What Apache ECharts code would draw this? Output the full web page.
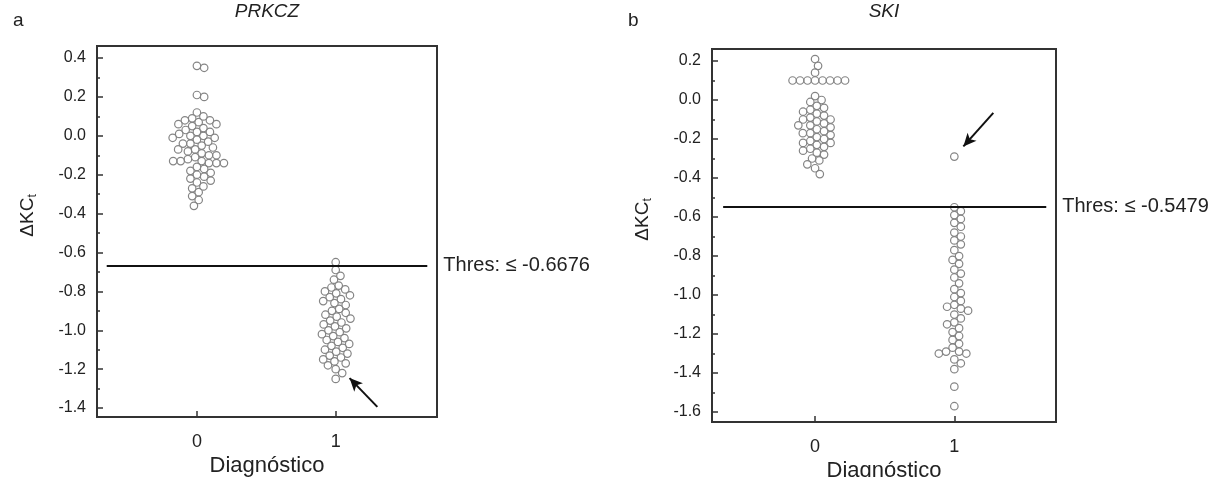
<!DOCTYPE html>
<html><head><meta charset="utf-8">
<script src="https://cdn.jsdelivr.net/npm/echarts@6/dist/echarts.min.js"></script>
<style>html,body{margin:0;padding:0;background:#fff}#c{width:1220px;height:477px}</style>
</head><body><div id="c"></div>
<script>
// ---------- data ----------
const categories = [0, 1];
const xTickLabels = ['0', '1'];
const xAxisTitle = 'Diagnóstico';
const panelTitles = ['PRKCZ', 'SKI'];
const panelLetters = ['a', 'b'];

const prkczGroup0 = [0.36, 0.35, 0.21, 0.20, 0.12, 0.10, 0.09, 0.08, 0.08, 0.07, 0.06, 0.06, 0.05, 0.04, 0.03,
  0.02, 0.02, 0.01, 0.00, 0.00, -0.01, -0.01, -0.02, -0.03, -0.04, -0.04, -0.05, -0.06, -0.07, -0.07,
  -0.08, -0.09, -0.10, -0.10, -0.11, -0.12, -0.13, -0.13, -0.13, -0.14, -0.14, -0.14,
  -0.16, -0.17, -0.18, -0.19, -0.20, -0.21, -0.22, -0.23, -0.24, -0.26, -0.27, -0.29, -0.31, -0.33, -0.36];
const prkczGroup1 = [-0.65, -0.69, -0.72, -0.74, -0.77, -0.78, -0.79, -0.80, -0.81, -0.82, -0.83, -0.84, -0.85,
  -0.86, -0.87, -0.89, -0.90, -0.91, -0.92, -0.93, -0.94, -0.95, -0.96, -0.97, -0.98, -0.99, -1.00, -1.01,
  -1.02, -1.03, -1.04, -1.05, -1.06, -1.07, -1.08, -1.09, -1.10, -1.11, -1.12, -1.13, -1.14, -1.15, -1.16,
  -1.17, -1.18, -1.20, -1.22, -1.25];
const skiGroup0 = [0.21, 0.175, 0.14, 0.10, 0.10, 0.10, 0.10, 0.10, 0.10, 0.10, 0.10, 0.02, 0.00, -0.01, -0.03,
  -0.04, -0.05, -0.06, -0.07, -0.08, -0.09, -0.10, -0.10, -0.11, -0.12, -0.13, -0.13, -0.14, -0.15, -0.16,
  -0.17, -0.17, -0.18, -0.19, -0.20, -0.21, -0.22, -0.22, -0.23, -0.24, -0.25, -0.26, -0.27, -0.28, -0.30,
  -0.31, -0.33, -0.35, -0.38];
const skiGroup1 = [-0.29, -0.55, -0.57, -0.59, -0.61, -0.63, -0.65, -0.68, -0.70, -0.72, -0.74, -0.77, -0.80,
  -0.82, -0.84, -0.87, -0.89, -0.91, -0.94, -0.97, -0.99, -1.01, -1.03, -1.05, -1.06, -1.07, -1.08, -1.10,
  -1.12, -1.14, -1.15, -1.17, -1.19, -1.21, -1.23, -1.25, -1.27, -1.29, -1.29, -1.30, -1.30, -1.33, -1.35,
  -1.38, -1.47, -1.57];
const prkczThreshold = -0.6676;
const skiThreshold = -0.5479;
const prkczYTicks = [-1.4, -1.2, -1.0, -0.8, -0.6, -0.4, -0.2, 0.0, 0.2, 0.4];
const skiYTicks = [-1.6, -1.4, -1.2, -1.0, -0.8, -0.6, -0.4, -0.2, 0.0, 0.2];

// ---------- layout ----------
const FONT = '"Liberation Sans", Arial, sans-serif';
const TXT = '#222';
const panels = [
  { grid: { left: 97, top: 46, width: 340, height: 371 }, xMin: -0.72, xMax: 1.73, yMin: -1.446, yMax: 0.462,
    groups: [prkczGroup0, prkczGroup1], thr: prkczThreshold, yTicks: prkczYTicks,
    arrow: [[1.30, -1.394], [1.10, -1.246]], lineX: [-0.65, 1.66], letterX: 13 },
  { grid: { left: 712, top: 49, width: 344, height: 373 }, xMin: -0.74, xMax: 1.73, yMin: -1.651, yMax: 0.2615,
    groups: [skiGroup0, skiGroup1], thr: skiThreshold, yTicks: skiYTicks,
    arrow: [[1.28, -0.066], [1.065, -0.238]], lineX: [-0.66, 1.66], letterX: 628 }
];
const MARK = 7.5, D = 7.4;

function swarm(values, group, p) {
  const kx = p.grid.width / (p.xMax - p.xMin), ky = p.grid.height / (p.yMax - p.yMin);
  const sorted = values.slice().sort((a, b) => b - a);
  const placed = [], out = [];
  for (const v of sorted) {
    const py = v * ky;
    let dx = 0;
    for (let s = 0; s < 400; s++) {
      const cands = s === 0 ? [0] : [s * 0.25, -s * 0.25];
      let ok = null;
      for (const c of cands) {
        if (placed.every(q => (q[0] - c) ** 2 + (q[1] - py) ** 2 >= D * D)) { ok = c; break; }
      }
      if (ok !== null) { dx = ok; break; }
    }
    placed.push([dx, py]);
    out.push([group + dx / kx, v]);
  }
  return out;
}

function minorOf(ticks, lo, hi) {
  const m = [];
  const step = ticks[1] - ticks[0];
  for (let v = ticks[0] - step / 2; v <= hi + 1e-9; v += step) if (v >= lo) m.push(+v.toFixed(3));
  return m;
}

const grids = [], xAxes = [], yAxes = [], series = [], graphics = [];
panels.forEach((p, i) => {
  grids.push(Object.assign({ show: true, borderColor: '#333', borderWidth: 2, backgroundColor: 'transparent',
    containLabel: false, outerBoundsMode: 'none' }, p.grid));
  xAxes.push({
    type: 'value', gridIndex: i, min: p.xMin, max: p.xMax, position: 'bottom',
    name: xAxisTitle, nameLocation: 'middle', nameGap: 38, nameMoveOverlap: false,
    nameTextStyle: { fontFamily: FONT, fontSize: 22, color: TXT },
    axisLine: { show: true, onZero: false, lineStyle: { color: '#333', width: 2 } },
    axisTick: { show: true, inside: true, length: 6, customValues: categories, lineStyle: { color: '#333', width: 1.5 } },
    axisLabel: { show: true, customValues: categories, formatter: v => xTickLabels[categories.indexOf(Math.round(v))] || '',
      fontFamily: FONT, fontSize: 18, color: TXT, margin: 16 },
    splitLine: { show: false }
  });
  yAxes.push({
    type: 'value', gridIndex: i, min: p.yMin, max: p.yMax, position: 'left',
    name: '{d|ΔKC}{s|t}', nameLocation: 'middle', nameGap: 58, nameRotate: 90, nameMoveOverlap: false,
    nameTextStyle: { fontFamily: FONT, color: TXT, padding: [0, 0, 0, 32],
      rich: { d: { fontFamily: FONT, fontSize: 19, color: TXT, lineHeight: 22 },
              s: { fontFamily: FONT, fontSize: 12, color: TXT, lineHeight: 12, verticalAlign: 'bottom' } } },
    axisLine: { show: true, onZero: false, lineStyle: { color: '#333', width: 2 } },
    axisTick: { show: true, inside: true, length: 6, customValues: p.yTicks, lineStyle: { color: '#333', width: 1.5 } },
    axisLabel: { show: true, customValues: p.yTicks, formatter: v => (+v).toFixed(1),
      fontFamily: FONT, fontSize: 16, color: TXT, margin: 11 },
    splitLine: { show: false }
  });
  yAxes.push({
    type: 'value', gridIndex: i, min: p.yMin, max: p.yMax, position: 'left', offset: 0,
    axisLine: { show: false, onZero: false },
    axisTick: { show: true, inside: true, length: 3, customValues: minorOf(p.yTicks, p.yMin, p.yMax), lineStyle: { color: '#333', width: 1.5 } },
    axisLabel: { show: false }, splitLine: { show: false }
  });
  const data = [];
  p.groups.forEach((vals, g) => swarm(vals, categories[g], p).forEach(d => data.push(d)));
  series.push({
    type: 'scatter', xAxisIndex: i, yAxisIndex: i * 2, data, symbol: 'circle', symbolSize: MARK,
    itemStyle: { color: 'rgba(255,255,255,0)', borderColor: '#858585', borderWidth: 1.2, opacity: 1 },
    silent: true, animation: false, z: 3,
    markLine: {
      silent: true, animation: false, symbol: ['none', 'none'], precision: 4,
      data: [
        [{ coord: [p.lineX[0], p.thr], lineStyle: { color: '#111', width: 2, type: 'solid' },
           label: { show: true, position: 'end', distance: 16, formatter: 'Thres: ≤ ' + p.thr.toFixed(4),
                    fontFamily: FONT, fontSize: 20, color: TXT } },
         { coord: [p.lineX[1], p.thr] }],
        [{ coord: p.arrow[0], symbol: 'none', lineStyle: { color: '#111', width: 2, type: 'solid' }, label: { show: false } },
         { coord: p.arrow[1], symbol: 'arrow', symbolSize: [9, 13] }]
      ]
    }
  });
  const cx = p.grid.left + p.grid.width / 2;
  graphics.push({ type: 'text', x: cx, y: 2, style: { text: panelTitles[i], font: 'italic 19px ' + FONT, fill: TXT, align: 'center', verticalAlign: 'top' } });
  graphics.push({ type: 'text', x: p.letterX, y: 11, style: { text: panelLetters[i], font: '19px ' + FONT, fill: TXT, align: 'left', verticalAlign: 'top' } });
});

const chart = echarts.init(document.getElementById('c'), null, { renderer: 'canvas' });
chart.setOption({
  animation: false, backgroundColor: '#fff',
  grid: grids, xAxis: xAxes, yAxis: yAxes, series, graphic: graphics
});
</script></body></html>
